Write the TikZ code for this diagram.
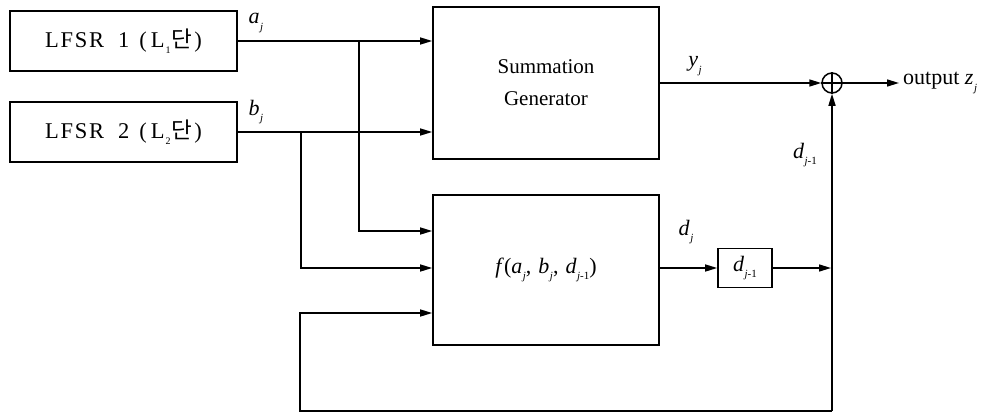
\documentclass[tikz,border=0pt]{standalone}
\usepackage{fontspec}
\setmainfont{Liberation Serif}
\newfontfamily\cjk{Noto Sans CJK KR}
\newfontfamily\lfsrfont[LetterSpace=8]{Liberation Serif}
\usetikzlibrary{arrows.meta}
\newcommand{\iv}[2]{\textit{#1}\kern0.5pt\raisebox{-0.3em}{\fontsize{11}{11}\selectfont\textit{#2}}}
\newcommand{\lsub}[1]{\kern1pt\raisebox{-0.25em}{\fontsize{10}{10}\selectfont #1}\kern1pt}
\begin{document}
\begin{tikzpicture}[x=1pt,y=-1pt,
  box/.style={draw,line width=1.7pt,inner sep=0pt},
  ln/.style={line width=1.5pt},
  conn/.style={line width=1.5pt,-{Triangle[length=12pt,width=7pt]}},
  lbl/.style={inner sep=0pt,font=\fontsize{22}{24}\selectfont},
  lfsr/.style={box,minimum width=227pt,minimum height=60pt,font=\fontsize{22.5}{24}\selectfont\lfsrfont}]
\useasboundingbox (0,0) rectangle (992,412);

\node[lfsr] (l1) at (123.5,41) {LFSR\hspace{14pt}1\hspace{10pt}(\hspace{4pt}L\lsub{1}{\cjk 단}\hspace{2pt})};
\node[lfsr] (l2) at (123.5,132) {LFSR\hspace{14pt}2\hspace{10pt}(\hspace{4pt}L\lsub{2}{\cjk 단}\hspace{2pt})};
\node[box,minimum width=226pt,minimum height=152pt,align=center,font=\fontsize{21}{32}\selectfont] (sg) at (546,83) {Summation\\Generator};
\node[box,minimum width=226pt,minimum height=150pt,font=\fontsize{22}{24}\selectfont] (f) at (546,270) {\textit{f}(\iv{a}{j},\hspace{7pt}\iv{b}{j},\hspace{7pt}\iv{d}{j\textup{-1}})};
\node[box,minimum width=54pt,minimum height=39pt,font=\fontsize{22}{24}\selectfont] (dl) at (745,268) {\iv{d}{j\textup{-1}}};
\node[draw,circle,line width=1.5pt,minimum size=20pt,inner sep=0pt] (xo) at (832,83) {};
\draw[ln] (xo.north) -- (xo.south) (xo.west) -- (xo.east);
\node[lbl,anchor=west,inner sep=4pt] (out) at (899,83) {output \iv{z}{j}};

\coordinate (ja) at (359,41);
\coordinate (jb) at (301,132);
\coordinate (fb1) at (832,411);
\coordinate (fb2) at (300,411);

\draw[conn] (l1.east) -- (sg.west |- l1.east);
\draw[conn] (l2.east) -- (sg.west |- l2.east);
\draw[conn] (ja) |- ([yshift=39pt]f.west);
\draw[conn] (jb) |- ([yshift=2pt]f.west);
\draw[conn] ([yshift=2pt]f.east) -- (dl.west);
\draw[conn] (dl.east) -- ([xshift=-1pt]dl.east -| xo.south);
\draw[conn] (sg.east) -- (xo.west);
\draw[conn] (xo.east) -- (out.west);
\draw[conn] (fb1) -- (xo.south);
\draw[conn] (fb1) -- (fb2) |- ([yshift=-43pt]f.west);

\node[lbl] (la) at (256,23) {\iv{a}{j}};
\node[lbl] (lb) at (256,112) {\iv{b}{j}};
\node[lbl] (ly) at (695,66) {\iv{y}{j}};
\node[lbl] (ld) at (686,232) {\iv{d}{j}};
\node[lbl] (ld1) at (805,155) {\iv{d}{j\textup{-1}}};
\end{tikzpicture}
\end{document}
